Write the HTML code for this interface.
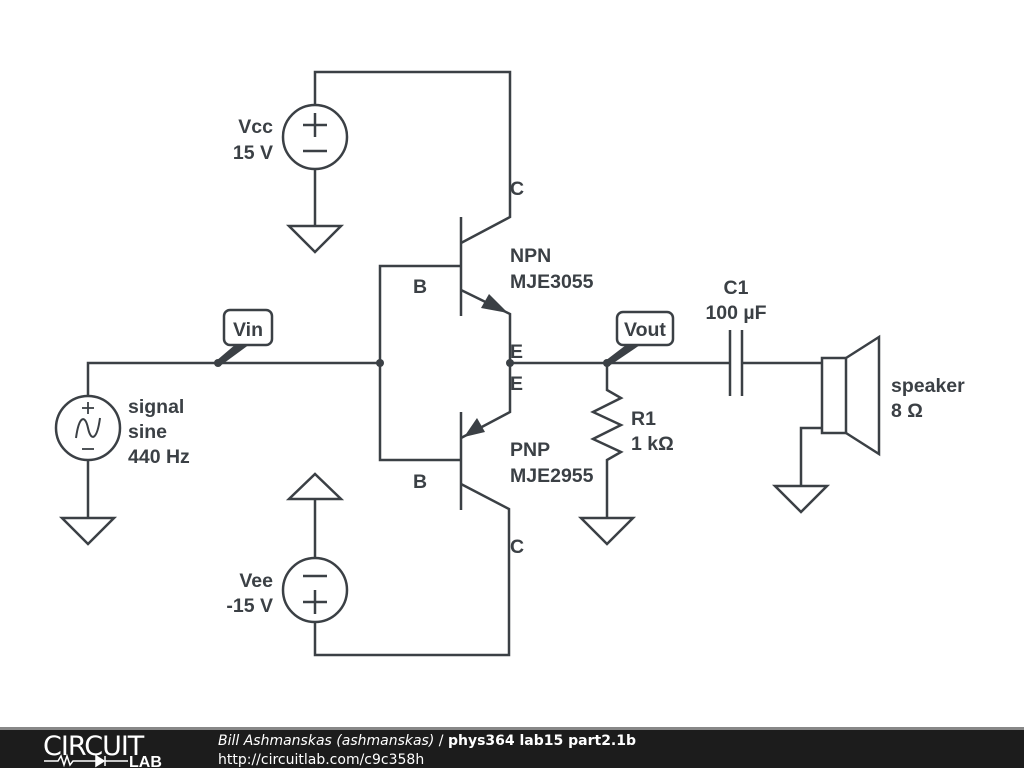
<!DOCTYPE html>
<html><head><meta charset="utf-8"><style>
html,body{margin:0;padding:0;background:#fff;width:1024px;height:768px;overflow:hidden}
svg{display:block}
text{font-family:"Liberation Sans",sans-serif;font-weight:bold;fill:#3b4045;font-size:19.5px}
</style></head><body>
<svg width="1024" height="768" viewBox="0 0 1024 768">
<g stroke="#3b4045" stroke-width="2.5" fill="none" stroke-linecap="butt">
<polyline points="315,105 315,72 510,72 510,217 461,243"/>
<circle cx="315" cy="137" r="32"/>
<line x1="303" y1="125" x2="327" y2="125"/><line x1="315" y1="113" x2="315" y2="137"/>
<line x1="303" y1="151" x2="327" y2="151"/>
<polyline points="315,169 315,226"/>
<polygon points="289,226 341,226 315,252"/>
<line x1="461" y1="217" x2="461" y2="316"/>
<polyline points="380,363 380,266 461,266"/>
<polyline points="461,290 510,314 510,363"/>
<line x1="461" y1="412" x2="461" y2="510"/>
<polyline points="380,363 380,460 461,460"/>
<polyline points="510,363 510,412 461,438"/>
<polyline points="461,484 509,509 509,655 315,655 315,622"/>
<circle cx="315" cy="590" r="32"/>
<line x1="303" y1="576" x2="327" y2="576"/>
<line x1="303" y1="602" x2="327" y2="602"/><line x1="315" y1="590" x2="315" y2="614"/>
<line x1="315" y1="558" x2="315" y2="499"/>
<polygon points="289,499 341,499 315,474"/>
<polyline points="380,363 88,363 88,396"/>
<circle cx="88" cy="428" r="32"/>
<line x1="82" y1="408" x2="94" y2="408" stroke-width="1.8"/><line x1="88" y1="402" x2="88" y2="414" stroke-width="1.8"/>
<line x1="82" y1="449" x2="94" y2="449" stroke-width="1.8"/>
<path d="M76,438 C79,416 85,414 88,428 C91,442 97,440 100,418" stroke-width="2"/>
<line x1="88" y1="460" x2="88" y2="518"/>
<polygon points="62,518 114,518 88,544"/>
<line x1="510" y1="363" x2="730" y2="363"/>
<polyline points="607,363 607,390 621,398 593,412 621,425 593,439 621,452 607,460 607,518"/>
<polygon points="581,518 633,518 607,544"/>
<line x1="730" y1="330" x2="730" y2="396"/>
<line x1="742" y1="330" x2="742" y2="396"/>
<line x1="742" y1="363" x2="822" y2="363"/>
<rect x="822" y="358" width="24" height="75"/>
<polyline points="846,358 879,337 879,454 846,433"/>
<polyline points="822,428 801,428 801,486"/>
<polygon points="775,486 827,486 801,512"/>
<rect x="224" y="310" width="48" height="35" rx="6" fill="#fff"/>
<rect x="617" y="312" width="56" height="33" rx="6" fill="#fff"/>
</g>
<g fill="#3b4045">
<polygon points="508,313 481,308 489,294"/>
<polygon points="464,437 477,418 485,432"/>
<polygon points="216,361 220,366 250,344 236,344"/>
<polygon points="605,361 609,366 640,345 626,345"/>
<circle cx="218" cy="363" r="4"/><circle cx="380" cy="363" r="4"/>
<circle cx="510" cy="363" r="4"/><circle cx="607" cy="363" r="4"/>
</g>
<text x="248" y="336" text-anchor="middle">Vin</text>
<text x="645" y="336" text-anchor="middle">Vout</text>
<text x="273" y="133" text-anchor="end">Vcc</text>
<text x="273" y="159" text-anchor="end">15 V</text>
<text x="273" y="587" text-anchor="end">Vee</text>
<text x="273" y="612" text-anchor="end">-15 V</text>
<text x="510" y="195" font-size="23">C</text>
<text x="510" y="553" font-size="23">C</text>
<text x="510" y="358" font-size="23">E</text>
<text x="510" y="390" font-size="23">E</text>
<text x="413" y="293" font-size="23">B</text>
<text x="413" y="488" font-size="23">B</text>
<text x="510" y="262">NPN</text>
<text x="510" y="288">MJE3055</text>
<text x="510" y="456">PNP</text>
<text x="510" y="482">MJE2955</text>
<text x="128" y="413">signal</text>
<text x="128" y="438">sine</text>
<text x="128" y="463">440 Hz</text>
<text x="631" y="425">R1</text>
<text x="631" y="450">1 kΩ</text>
<text x="736" y="294" text-anchor="middle">C1</text>
<text x="736" y="319" text-anchor="middle">100 µF</text>
<text x="891" y="392">speaker</text>
<text x="891" y="417">8 Ω</text>
<rect x="0" y="729" width="1024" height="39" fill="#1c1c1c"/>
<rect x="0" y="727" width="1024" height="3" fill="#888"/>
<text x="43" y="755" style="font-weight:normal;fill:#fff;font-size:27px;font-family:'DejaVu Sans',sans-serif;letter-spacing:-1px">CIRCUIT</text>
<g stroke="#fff" stroke-width="1.5" fill="none"><polyline points="44,761 58,761 61,756 64,765 67,756 70,765 73,761 96,761"/><polygon points="96,756 96,766 104,761" fill="#fff"/><line x1="105" y1="756" x2="105" y2="766"/><line x1="105" y1="761" x2="128" y2="761"/></g>
<text x="129" y="767" style="fill:#fff;font-size:16px">LAB</text>
<text x="218" y="745" style="fill:#fff;font-size:14px;font-weight:normal;font-style:italic;font-family:'DejaVu Sans',sans-serif">Bill Ashmanskas (ashmanskas) <tspan font-style="normal">/</tspan> <tspan font-weight="bold" font-style="normal">phys364 lab15 part2.1b</tspan></text>
<text x="218" y="764" style="fill:#fff;font-size:14px;font-weight:normal;font-family:'DejaVu Sans',sans-serif">http://circuitlab.com/c9c358h</text>
</svg>
</body></html>
